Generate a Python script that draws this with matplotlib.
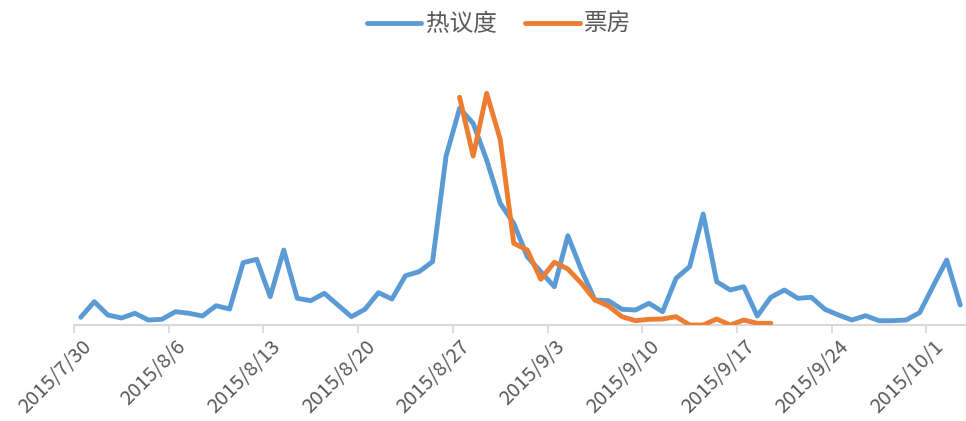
import matplotlib
matplotlib.use("Agg")
import matplotlib.pyplot as plt
import numpy as np
import datetime as dt

plt.rcParams['font.family'] = ['Noto Sans CJK SC', 'DejaVu Sans']

# daily values from 2015/7/30 (arbitrary units)
start = dt.date(2015, 7, 30)
heat = [7.7, 23.3, 10, 7, 11.7, 5, 5.7, 13.3, 11.7, 9,
        19.3, 16, 62.3, 65.7, 28.3, 75, 26.7, 24.3, 31.7, 20,
        8.3, 15.7, 32.3, 26, 49.3, 53.3, 63.3, 169, 216.7, 201.7,
        165, 121.7, 101.7, 68.3, 53.3, 38.3, 89.3, 55, 25, 24.3,
        15.7, 15, 21.7, 13.3, 46.7, 58.3, 111, 43.3, 35, 38.3,
        9, 27.7, 35, 26.7, 27.7, 15.7, 10, 5, 9.3, 4.3,
        4.3, 5, 12.3, 39, 65, 20]
# box office starts on 2015/8/27 (day 28)
box_start = 28
box = [227.7, 169, 231.7, 185.7, 81.7, 75, 45.7, 62.7, 56, 41.7,
       25, 19, 8.3, 4.3, 5.7, 6, 8.3, 0, 0, 6,
       0, 5, 1.7, 1.7]

blue = '#5b9bd5'
orange = '#ed7d31'
grey = '#595959'

fig = plt.figure(figsize=(9.66, 4.21), dpi=100)
ax = fig.add_axes([74/966, 96/421, 893/966, 260/421])

x_heat = np.arange(len(heat))
x_box = np.arange(box_start, box_start + len(box))
ax.plot(x_heat, heat, color=blue, lw=3.5, label='热议度', solid_joinstyle='round', solid_capstyle='round')
ax.plot(x_box, box, color=orange, lw=3.5, label='票房', solid_joinstyle='round', solid_capstyle='round')

ax.set_xlim(-0.5, len(heat) - 0.5)
ax.set_ylim(0, 260)

# labels centred on the day, tick marks on the day edges
label_pos = np.arange(0, len(heat), 7)
labels = []
for d in label_pos:
    day = start + dt.timedelta(days=int(d))
    labels.append('%d/%d/%d' % (day.year, day.month, day.day))
ax.set_xticks(label_pos)
ax.set_xticklabels(labels, rotation=45, ha='right', va='top',
                   rotation_mode='anchor', fontsize=14.5, color=grey)
ax.tick_params(axis='x', which='major', length=0, pad=8)
ax.set_xticks(np.arange(-0.5, len(heat), 7), minor=True)
ax.tick_params(axis='x', which='minor', length=6, width=1.3, color='#d9d9d9')
ax.set_yticks([])

for s in ['top', 'right', 'left']:
    ax.spines[s].set_visible(False)
ax.spines['bottom'].set_color('#d9d9d9')
ax.spines['bottom'].set_linewidth(1.5)
ax.spines['bottom'].set_zorder(0)

fig.legend(loc='upper center', bbox_to_anchor=(0.517, 1.02), ncol=2, frameon=False,
           fontsize=17, handlelength=2.3, handletextpad=0.2, columnspacing=1.2,
           labelcolor=grey)

fig.savefig('out.png', dpi=100)
